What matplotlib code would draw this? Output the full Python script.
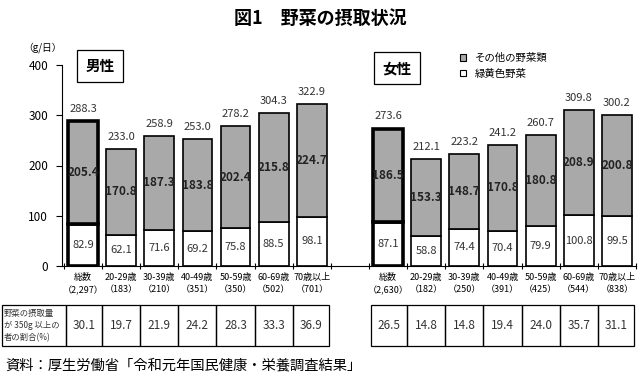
import matplotlib.pyplot as plt
import matplotlib.transforms as mtransforms
from matplotlib.patches import Rectangle, Patch

plt.rcParams['font.family'] = ['Noto Sans CJK JP', 'DejaVu Sans']

# data
ages = ['総数', '20-29歳', '30-39歳', '40-49歳', '50-59歳', '60-69歳', '70歳以上']
n_male = ['2,297', '183', '210', '351', '350', '502', '701']
n_female = ['2,630', '182', '250', '391', '425', '544', '838']
male_green = [82.9, 62.1, 71.6, 69.2, 75.8, 88.5, 98.1]
male_other = [205.4, 170.8, 187.3, 183.8, 202.4, 215.8, 224.7]
male_total = [288.3, 233.0, 258.9, 253.0, 278.2, 304.3, 322.9]
female_green = [87.1, 58.8, 74.4, 70.4, 79.9, 100.8, 99.5]
female_other = [186.5, 153.3, 148.7, 170.8, 180.8, 208.9, 200.8]
female_total = [273.6, 212.1, 223.2, 241.2, 260.7, 309.8, 300.2]
male_rate = [30.1, 19.7, 21.9, 24.2, 28.3, 33.3, 36.9]
female_rate = [26.5, 14.8, 14.8, 19.4, 24.0, 35.7, 31.1]

gray = '#a9a9a9'

fig = plt.figure(figsize=(6.4, 3.76), dpi=100)
ax = fig.add_axes([62/640, 110/376, 574/640, 201/376])

male_x = list(range(7))
female_x = [x + 8 for x in range(7)]
w = 0.78


def draw_group(xs, green, other, total):
    for i, x in enumerate(xs):
        lw = 2.6 if i == 0 else 1.2
        ax.bar(x, green[i], w, color='white', edgecolor='black', linewidth=lw, zorder=2)
        ax.bar(x, other[i], w, bottom=green[i], color=gray, edgecolor='black',
               linewidth=lw, zorder=2)
        ax.text(x, green[i] / 2, f'{green[i]:.1f}', ha='center', va='center',
                fontsize=8, color='#333333', zorder=3)
        ax.text(x, green[i] + other[i] / 2, f'{other[i]:.1f}', ha='center',
                va='center', fontsize=8.5, fontweight='bold', color='#222222', zorder=3)
        ax.text(x, total[i] + 24, f'{total[i]:.1f}', ha='center', va='center',
                fontsize=8, color='#333333')


draw_group(male_x, male_green, male_other, male_total)
draw_group(female_x, female_green, female_other, female_total)

ax.set_xlim(-0.55, 14.45)
ax.set_ylim(0, 400)
ax.set_yticks([0, 100, 200, 300, 400])
ax.tick_params(axis='y', direction='out', length=4, labelsize=8.5, pad=6)
ax.set_xticks([k + 0.5 for k in range(-1, 15)])
ax.set_xticklabels([])
ax.tick_params(axis='x', which='major', direction='inout', length=5)
cat_labels = [f'{a}\n（{n}）' for a, n in zip(ages, n_male)] + \
             [f'{a}\n（{n}）' for a, n in zip(ages, n_female)]
ax.set_xticks(male_x + female_x, minor=True)
ax.set_xticklabels(cat_labels, minor=True, fontsize=6.5, linespacing=1.5)
ax.tick_params(axis='x', which='minor', length=0, pad=5)
for s in ['top', 'right']:
    ax.spines[s].set_visible(False)

# title and annotations
fig.text(0.5, 1 - 18/376, '図1　野菜の摂取状況', ha='center', va='center',
         fontsize=13, fontweight='bold')
fig.text(43/640, 1 - 48/376, '（g/日）', ha='center', va='center', fontsize=7)
fig.text(100/640, 1 - 66/376, '男性', ha='center', va='center', fontsize=10.5,
         fontweight='bold', bbox=dict(boxstyle='square,pad=0.55', fc='white', ec='black', lw=0.9))
fig.text(397/640, 1 - 68/376, '女性', ha='center', va='center', fontsize=10.5,
         fontweight='bold', bbox=dict(boxstyle='square,pad=0.55', fc='white', ec='black', lw=0.9))

handles = [Patch(facecolor=gray, edgecolor='black', linewidth=0.8, label='その他の野菜類'),
           Patch(facecolor='white', edgecolor='black', linewidth=0.8, label='緑黄色野菜')]
fig.legend(handles=handles, loc='upper left', bbox_to_anchor=(460/640, 1 - 53/376),
           frameon=False, fontsize=7.5, handlelength=0.6, handleheight=0.6,
           handletextpad=0.8, labelspacing=0.55, borderaxespad=0, borderpad=0)

# table of share of people eating 350g or more
tr = mtransforms.blended_transform_factory(ax.transData, fig.transFigure)
y0, y1 = 1 - 346/376, 1 - 305/376


def draw_row(xs, vals):
    edges = [xs[0] - 0.45] + [x + 0.5 for x in xs[:-1]] + [xs[-1] + 0.45]
    for i, v in enumerate(vals):
        ax.add_patch(Rectangle((edges[i], y0), edges[i + 1] - edges[i], y1 - y0,
                               transform=tr, fill=False, ec='black', lw=0.9, clip_on=False))
        ax.text((edges[i] + edges[i + 1]) / 2, (y0 + y1) / 2, f'{v:.1f}', transform=tr,
                ha='center', va='center', fontsize=8.5, color='#333333')


draw_row(male_x, male_rate)
draw_row(female_x, female_rate)
ax.add_patch(Rectangle((-2.12, y0), 2.12 - 0.45, y1 - y0, transform=tr, fill=False,
                       ec='black', lw=0.9, clip_on=False))
ax.text(-2.07, (y0 + y1) / 2, '野菜の摂取量\nが 350g 以上の\n者の割合(%)', transform=tr,
        ha='left', va='center', fontsize=6, linespacing=1.45, color='#333333')

fig.text(5/640, 1 - 365/376, '資料：厚生労働省「令和元年国民健康・栄養調査結果」',
         ha='left', va='center', fontsize=10.3)

fig.savefig('out.png', dpi=100)
